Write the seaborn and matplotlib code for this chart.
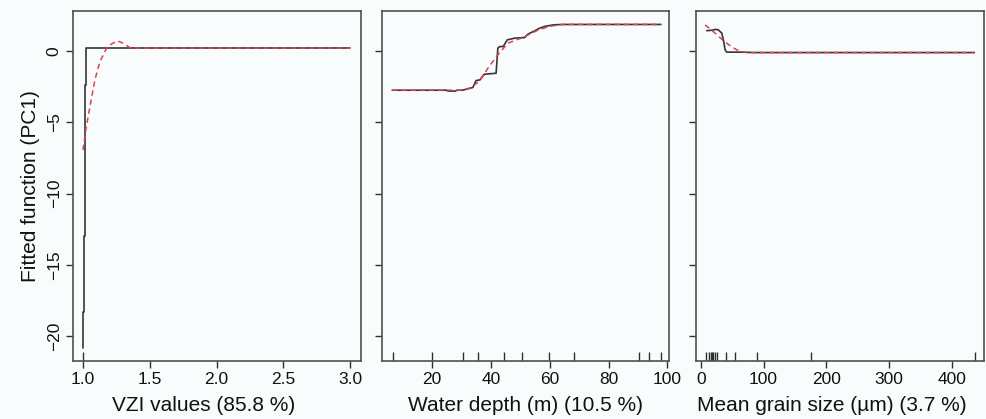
import numpy as np
import pandas as pd
import matplotlib
matplotlib.use("Agg")
from matplotlib import pyplot as plt
import seaborn as sns

# panel 1: VZI values
vzi_x = [1.0, 1.0, 1.005, 1.005, 1.015, 1.015, 1.022, 1.022, 3.0]
vzi_fit = [-20.8, -18.3, -18.3, -13.0, -13.0, -2.4, -2.4, 0.19, 0.19]
vzi_sx = [1.0, 1.022, 1.052, 1.09, 1.127, 1.177, 1.215, 1.257, 1.30, 1.35, 1.40, 3.0]
vzi_smooth = [-6.95, -5.5, -3.9, -2.0, -0.75, 0.19, 0.49, 0.70, 0.54, 0.23, 0.19, 0.19]
vzi_rug = [1.0]

# panel 2: water depth
depth_x = [6.5, 25, 25.5, 28, 28.5, 30.4, 33.9, 35, 36.3, 37.8, 41.8, 42.4, 43.0, 44.2,
           45.6, 48.1, 51.5, 52.6, 54.9, 56.6, 58.3, 61.2, 64.6, 97.8]
depth_fit = [-2.76, -2.76, -2.82, -2.82, -2.76, -2.76, -2.57, -2.08, -2.04, -1.64, -1.57, 0.19,
             0.30, 0.30, 0.77, 0.89, 0.93, 1.17, 1.40, 1.59, 1.71, 1.82, 1.85, 1.85]
depth_sx = [6.5, 30, 33, 36, 39, 42.4, 45.8, 50.3, 53, 56, 60, 64, 67, 97.8]
depth_smooth = [-2.76, -2.76, -2.6, -2.15, -1.22, -0.28, 0.54, 0.89, 1.15, 1.45, 1.72, 1.84, 1.85, 1.85]
depth_rug = [6.8, 20, 30.7, 35.8, 44.4, 50.7, 59.8, 68.2, 90.2, 93.6, 97.8]

# panel 3: mean grain size
grain_x = [9.5, 18, 23, 28, 33.4, 36, 38.7, 41.4, 62.6, 83.8, 436]
grain_fit = [1.41, 1.45, 1.5, 1.47, 1.24, 0.77, 0.07, -0.09, -0.09, -0.12, -0.12]
grain_sx = [6.9, 20, 35, 50, 62.6, 80, 436]
grain_smooth = [1.82, 1.35, 0.75, 0.25, -0.05, -0.12, -0.12]
grain_rug = [8.4, 13.7, 16.4, 18.5, 20.1, 22.3, 25.5, 39.8, 54.7, 89.2, 175.3, 437.4]

panels = [
    ("VZI values (85.8 %)", vzi_x, vzi_fit, vzi_sx, vzi_smooth, vzi_rug,
     (0.925, 3.08), [1.0, 1.5, 2.0, 2.5, 3.0], ["1.0", "1.5", "2.0", "2.5", "3.0"]),
    ("Water depth (m) (10.5 %)", depth_x, depth_fit, depth_sx, depth_smooth, depth_rug,
     (2.9, 100.7), [20, 40, 60, 80, 100], ["20", "40", "60", "80", "100"]),
    ("Mean grain size (\u00b5m) (3.7 %)", grain_x, grain_fit, grain_sx, grain_smooth, grain_rug,
     (-7.5, 451.5), [0, 100, 200, 300, 400], ["0", "100", "200", "300", "400"]),
]

sns.set_theme(style="ticks")
plt.rcParams['font.family'] = ['Liberation Sans', 'DejaVu Sans']

bg = "#f8fcfd"
fig = plt.figure(figsize=(9.86, 4.19), dpi=100, facecolor=bg)
lefts = [0.074, 0.387, 0.706]
width = 0.292
label_x = [0.455, 0.5, 0.47]

for i, (label, fx, fy, sx, sy, rug, xlim, xt, xtl) in enumerate(panels):
    ax = fig.add_axes([lefts[i], 0.138, width, 0.836], facecolor=bg)
    fit = pd.DataFrame({"x": fx, "y": fy})
    smooth = pd.DataFrame({"x": sx, "y": sy})
    sns.lineplot(data=fit, x="x", y="y", ax=ax, sort=False, estimator=None,
                 color="#353535", linewidth=1.2)
    sns.lineplot(data=smooth, x="x", y="y", ax=ax, sort=False, estimator=None,
                 color="#e0404a", linewidth=1.1, linestyle=(0, (3.5, 2.5)))
    sns.rugplot(x=rug, ax=ax, height=0.025, color="#303030", linewidth=1.0)
    ax.set_xlim(*xlim)
    ax.set_ylim(-21.75, 2.8)
    ax.set_xticks(xt)
    ax.set_xticklabels(xtl)
    ax.set_yticks([-20, -15, -10, -5, 0])
    ax.set_xlabel(label, fontsize=15, color="#111111")
    ax.xaxis.set_label_coords(label_x[i], -0.10, transform=ax.transAxes)
    ax.xaxis.label.set_va("top")
    ax.set_ylabel("")
    ax.tick_params(direction="out", length=5, width=1.0, color="#303030",
                   labelsize=12.5, labelcolor="#111111", pad=3)
    for s in ax.spines.values():
        s.set_visible(True)
        s.set_color("#505050")
        s.set_linewidth(1.2)
    if i == 0:
        ax.set_ylabel("Fitted function (PC1)", fontsize=15, color="#111111", labelpad=5)
        for t in ax.get_yticklabels():
            t.set_rotation(90)
            t.set_va("center")
    else:
        ax.set_yticklabels([])

fig.savefig("out.png", dpi=100, facecolor=bg)
